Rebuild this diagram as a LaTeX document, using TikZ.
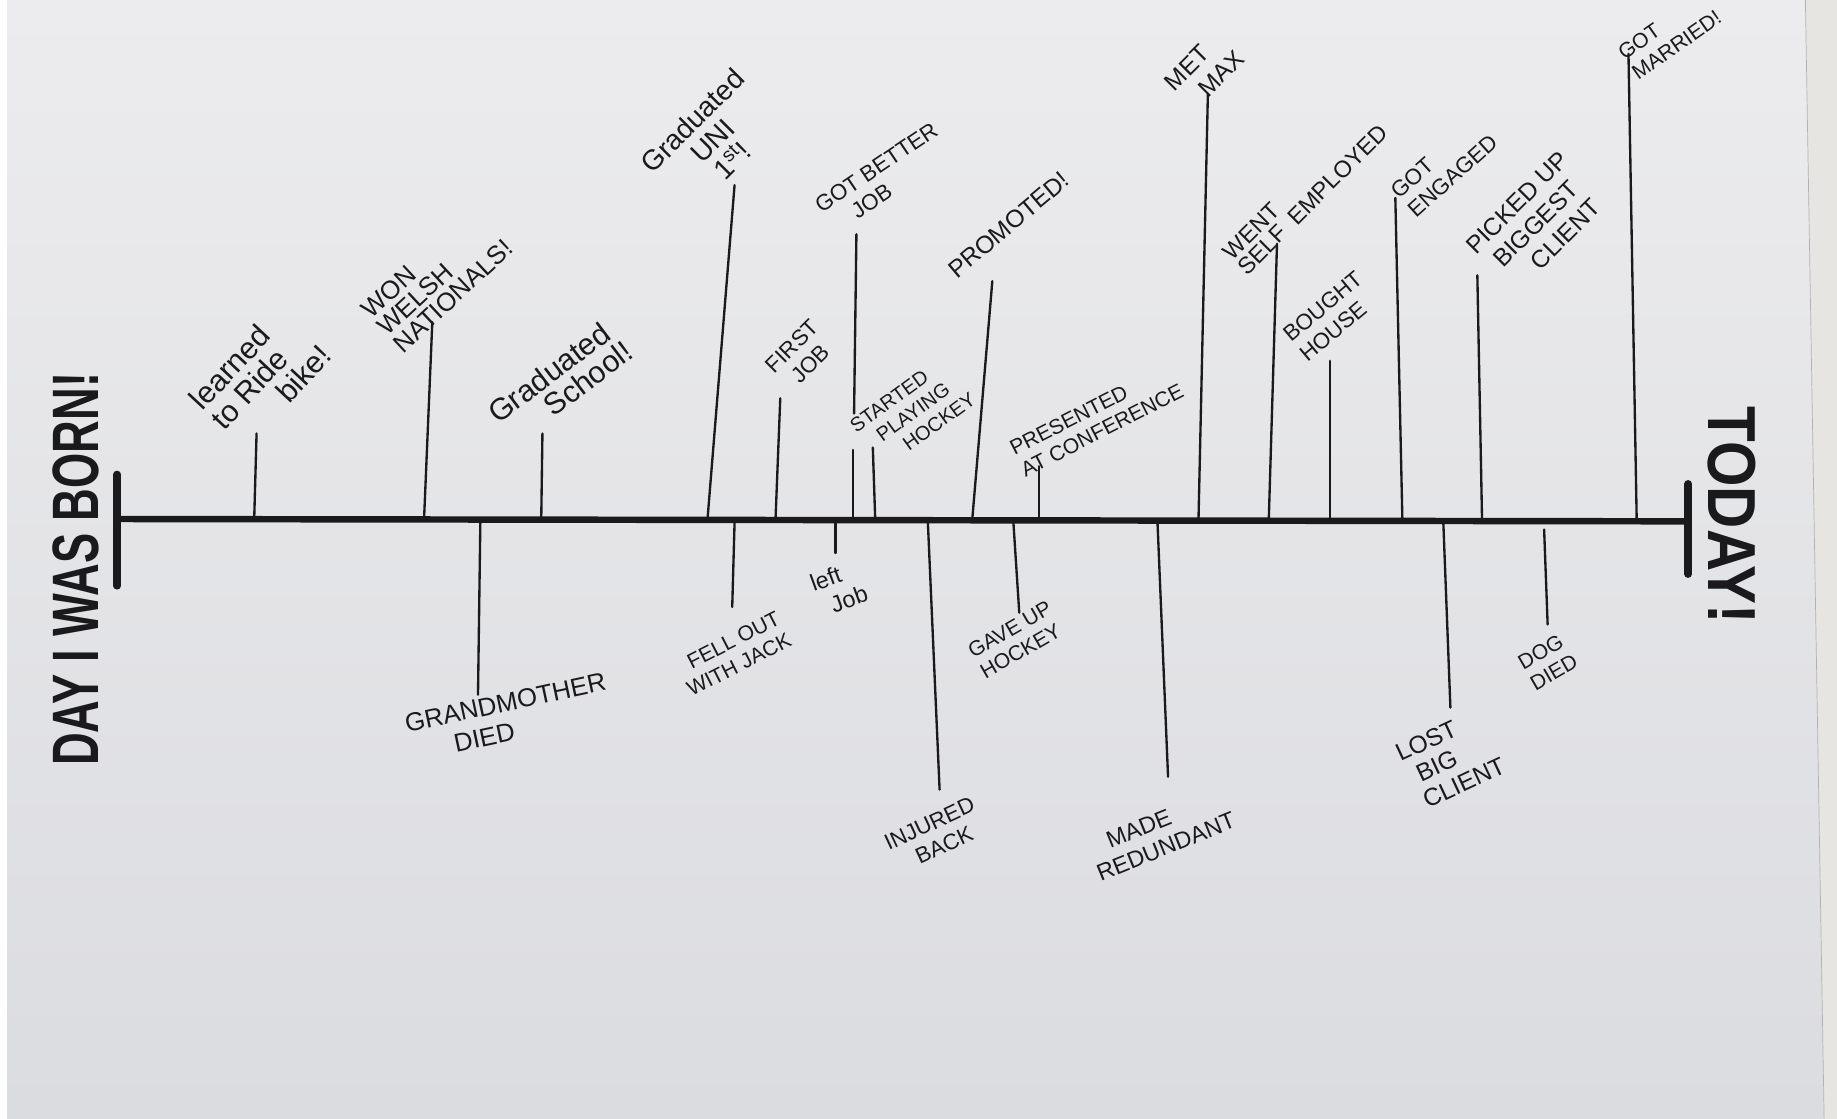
\documentclass[tikz,border=0pt]{standalone}
\usepackage{fontspec}
\setmainfont{Liberation Sans}
\definecolor{inkc}{HTML}{1A1A1C}
\definecolor{papertop}{HTML}{ECECEE}
\definecolor{paperbot}{HTML}{DBDCE0}
\definecolor{deskc}{HTML}{E6E5E1}
\newcommand{\fs}[1]{\fontsize{#1}{\the\dimexpr #1pt*23/20\relax}\selectfont}
\newcommand{\fsl}[2]{\fontsize{#1}{#2}\selectfont}
\begin{document}
\begin{tikzpicture}[x=1pt,y=-1pt,
  ink/.style={draw=inkc, line cap=round, line join=round},
  tick/.style={ink, line width=2pt},
  axisline/.style={ink, line width=5.5pt},
  endbar/.style={ink, line width=6.5pt},
  lbl/.style={text=inkc, inner sep=0pt, align=left},
  big/.style={text=inkc, inner sep=0pt, font=\bfseries}]
\useasboundingbox (0,0) rectangle (1568,955);
% paper
\fill[top color=papertop, bottom color=paperbot] (0,0) rectangle (1568,955);
\fill[white] (0,0) rectangle (6,955);
\fill[deskc] (1541,0) -- (1568,0) -- (1568,955) -- (1557,955) -- cycle;
\draw[color=gray!60, line width=0.6pt] (1541,0) -- (1557,955);

% axis
\coordinate (start) at (100,443);
\coordinate (end) at (1440,445);
\draw[axisline] (start) -- (end);
\coordinate (sb1) at (100,405); \coordinate (sb2) at (100,500);
\draw[endbar] (sb1) -- (sb2);
\coordinate (eb1) at (1441,413); \coordinate (eb2) at (1441,490);
\draw[endbar] (eb1) -- (eb2);

\node[big, rotate=90] (born) at (65,486) {\scalebox{0.69}[1]{\fontsize{56}{56}\selectfont DAY I WAS BORN!}};
\node[big, rotate=-90] (today) at (1478,440) {\scalebox{0.86}[1]{\fontsize{58}{58}\selectfont TODAY!}};

% upper ticks
\foreach \n/\xa/\ya/\xb/\yb in {
  1/217/442/219/370, 2/362/442/369/275, 3/462/442/463/370, 4/604/442/627/158,
  5/662/442/666/340, 7/747/442/745/382, 8/830/442/847/240, 9/887/442/887/398,
  10/1023/443/1031/80, 11/1083/443/1090/208, 12/1135/443/1135/308,
  13/1197/443/1191/169, 14/1265/443/1261/235, 15/1397/443/1390/46}{
  \coordinate (ua\n) at (\xa,\ya);
  \coordinate (ub\n) at (\xb,\yb);
  \draw[tick] (ua\n) -- (ub\n);
}
% got better job line, broken by the "STARTED" text
\coordinate (ua6) at (728,442); \coordinate (uc6) at (728,384);
\coordinate (ud6) at (729,353); \coordinate (ub6) at (731,200);
\draw[tick] (ua6) -- (uc6);
\draw[tick] (ud6) -- (ub6);

% lower ticks
\foreach \n/\xa/\ya/\xb/\yb in {
  1/410/446/408/593, 2/627/446/625/518, 3/713/446/713/472, 4/792/446/802/674,
  5/865/446/870/523, 6/988/446/997/663, 7/1232/447/1238/604, 8/1318/452/1321/533}{
  \coordinate (da\n) at (\xa,\ya);
  \coordinate (db\n) at (\xb,\yb);
  \draw[tick] (da\n) -- (db\n);
}

% upper labels
\node[lbl, rotate=47, font=\fsl{26}{25}] (u1) at (222,322) {learned\\to Ride\\\hspace*{2.1em}bike!};
\node[lbl, rotate=43, font=\fsl{22}{20}] (u2) at (373,238) {WON\\WELSH\\NATIONALS!};
\node[lbl, rotate=37, font=\fsl{26}{24}] (u3) at (478,326) {Graduated\\\hspace*{1.6em}School!};
\node[lbl, rotate=45, font=\fsl{24}{24}, align=center] (u4) at (608,120) {Graduated\\UNI\\1\textsuperscript{st}!};
\node[lbl, rotate=45, font=\fs{19}, align=center] (u5) at (684,303) {FIRST\\JOB};
\node[lbl, rotate=34, font=\fs{19}] (u6) at (754,152) {GOT BETTER\\\hspace*{1.2em}JOB};
\node[lbl, rotate=36, font=\fs{17}] (u7) at (779,352) {STARTED\\\hspace*{0.8em}PLAYING\\\hspace*{1.6em}HOCKEY};
\node[lbl, rotate=40, font=\fs{21}] (u8) at (861,192) {PROMOTED!};
\node[lbl, rotate=27, font=\fs{18}] (u9) at (936,358) {PRESENTED\\AT CONFERENCE};
\node[lbl, rotate=45, font=\fs{21}] (u10) at (1028,60) {MET\\\hspace*{0.8em}MAX};
\node[lbl, rotate=45, font=\fsl{20}{18}] (u11) at (1114,164) {WENT\\SELF\hspace{0.5em}EMPLOYED};
\node[lbl, rotate=40, font=\fs{19}] (u12) at (1136,270) {BOUGHT\\HOUSE};
\node[lbl, rotate=42, font=\fs{19}] (u13) at (1233,142) {GOT\\ENGAGED};
\node[lbl, rotate=45, font=\fs{21}] (u14) at (1312,190) {PICKED UP\\\hspace*{0.4em}BIGGEST\\\hspace*{1.4em}CLIENT};
\node[lbl, rotate=35, font=\fs{18}] (u15) at (1425,30) {GOT\\MARRIED!};

% lower labels
\node[lbl, rotate=12, font=\fs{22}] (d1) at (434,612) {GRANDMOTHER\\\hspace*{1.7em}DIED};
\node[lbl, rotate=27, font=\fs{18}] (d2) at (626,558) {\hspace*{0.6em}FELL OUT\\WITH JACK};
\node[lbl, rotate=20, font=\fs{20}] (d3) at (716,502) {left\\\hspace*{0.5em}Job};
\node[lbl, rotate=25, font=\fs{19}] (d4) at (798,713) {INJURED\\\hspace*{1em}BACK};
\node[lbl, rotate=30, font=\fs{18}] (d5) at (867,546) {GAVE UP\\HOCKEY};
\node[lbl, rotate=22, font=\fs{20}] (d6) at (991,712) {\hspace*{0.9em}MADE\\REDUNDANT};
\node[lbl, rotate=25, font=\fsl{21}{23}] (d7) at (1238,648) {LOST\\\hspace*{0.4em}BIG\\\hspace*{0.2em}CLIENT};
\node[lbl, rotate=30, font=\fs{18}] (d8) at (1321,565) {DOG\\DIED};
\end{tikzpicture}
\end{document}
